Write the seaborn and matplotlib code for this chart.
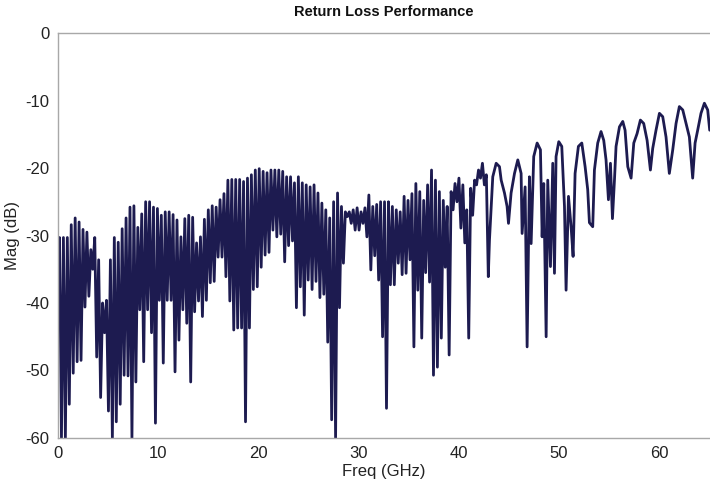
import numpy as np
import pandas as pd
import seaborn as sns
import matplotlib.pyplot as plt

# 0 - 43 GHz: fast ripple, one peak and one dip per period (dB)
start_db = -41.0
peaks_db = [-30.3, -30.3, -30.3, -28.4, -27.4, -28.0, -29.1, -29.5, -32.1, -30.3,
            -33.6, -40.0, -39.6, -33.6, -30.3, -31.0, -29.0, -27.4, -25.8, -25.6,
            -28.8, -26.8, -25.0, -25.0, -25.8, -26.0, -27.0,
            -26.5, -26.5, -26.9, -27.7, -30.2, -27.5, -27.0, -27.3, -31.1, -30.2,
            -27.6, -26.2, -25.6, -25.8, -24.7, -23.8, -21.8, -21.7, -21.7, -21.7,
            -22.0, -21.5, -21.0, -20.3, -20.1, -20.5, -20.7,
            -20.3, -20.3, -20.3, -20.5, -21.3, -21.3, -22.2, -21.3, -22.2, -22.5,
            -22.8, -22.5, -23.7, -25.2, -26.2, -27.4, -25.0, -23.7, -25.7, -26.5,
            -26.5, -26.2, -25.9, -26.5, -25.9, -24.0, -25.7, -25.4, -25.0,
            -25.0, -25.0, -25.7, -26.2, -26.5, -24.2, -24.8, -23.8, -22.3, -23.5,
            -24.8, -22.5, -20.3, -21.8, -23.5, -24.8, -25.7, -23.5, -22.3, -21.5,
            -22.5, -26.2, -23.0, -21.8, -20.3, -19.3, -21.0]
dips_db = [-60.0, -60.0, -55.0, -50.4, -48.7, -48.5, -40.6, -39.0, -35.0, -48.0,
           -54.0, -44.4, -56.0, -60.0, -57.6, -55.0, -50.7, -50.8, -60.0, -51.7,
           -41.0, -48.7, -41.0, -44.4, -57.8, -39.6, -48.9,
           -39.6, -39.6, -50.2, -45.5, -41.0, -43.0, -51.7, -41.3, -39.7, -42.0,
           -39.6, -37.0, -36.8, -33.2, -33.2, -36.1, -39.7, -44.0, -43.7, -43.7,
           -57.6, -43.7, -38.0, -37.6, -34.7, -32.9, -32.5,
           -29.2, -30.2, -29.8, -33.9, -31.5, -30.8, -40.7, -37.6, -41.8, -36.6,
           -38.0, -36.8, -39.2, -38.7, -45.8, -57.3, -60.0, -40.7, -34.1, -27.2,
           -28.2, -29.2, -29.2, -28.2, -30.2, -35.1, -33.0, -36.6, -45.0,
           -55.6, -37.3, -37.3, -34.1, -35.8, -35.6, -33.6, -46.5, -38.1, -45.2,
           -35.5, -36.9, -50.7, -49.5, -45.2, -34.7, -47.7, -26.2, -25.0, -28.9,
           -31.1, -45.2, -27.0, -22.5, -21.5, -22.5, -36.1]

# 43 - 65 GHz: slower ripple, read point by point
tail_ghz = [43.08, 43.41, 43.75, 44.08, 44.25, 44.58, 44.84, 44.98, 45.24, 45.58,
            45.91, 46.24, 46.34, 46.64, 46.84, 47.07, 47.24, 47.50, 47.84, 48.17,
            48.34, 48.50, 48.74, 48.90, 49.17, 49.40, 49.57, 49.73, 50.00, 50.30,
            50.57, 50.73, 50.97, 51.23, 51.43, 51.63, 51.96, 52.30, 52.63, 52.89,
            53.06, 53.39, 53.56, 53.89, 54.22, 54.49, 54.72, 54.96, 55.16, 55.36,
            55.56, 55.72, 56.06, 56.39, 56.62, 56.89, 57.22, 57.49, 57.82, 58.15,
            58.48, 58.82, 59.15, 59.38, 59.71, 60.05, 60.38, 60.71, 61.04, 61.38,
            61.71, 62.04, 62.38, 62.71, 63.04, 63.37, 63.61, 63.87, 64.20, 64.54,
            64.87, 65.07]
tail_db = [-30.7, -21.3, -19.3, -19.8, -21.8, -23.7, -25.7, -28.2, -23.7, -20.8,
           -18.8, -20.8, -29.7, -22.8, -46.5, -21.3, -31.2, -18.3, -16.3, -17.3,
           -30.2, -22.3, -45.0, -21.8, -34.6, -19.3, -35.6, -18.3, -16.1, -16.8,
           -25.7, -38.1, -24.2, -28.7, -33.1, -20.8, -16.8, -16.3, -19.8, -23.2,
           -28.1, -28.7, -20.3, -16.3, -14.6, -15.9, -18.8, -24.7, -19.3, -27.5,
           -21.8, -16.8, -13.9, -13.1, -14.4, -19.8, -21.5, -16.3, -14.9, -12.9,
           -13.4, -15.9, -20.3, -17.1, -14.4, -11.9, -12.4, -15.4, -20.8, -17.3,
           -13.4, -10.9, -11.4, -13.4, -15.4, -21.5, -16.3, -14.4, -11.9, -10.4,
           -11.4, -14.4]

xticks = [0, 10, 20, 30, 40, 50, 60]
yticks = [0, -10, -20, -30, -40, -50, -60]

# frequency grid of the fast ripple part
n = len(peaks_db)
step = 0.391
f_pk = 0.15 + step * np.arange(n)
f_dp = f_pk + step / 2
freq = np.concatenate([[0.0], np.column_stack([f_pk, f_dp]).ravel(), tail_ghz])
mag = np.concatenate([[start_db], np.column_stack([peaks_db, dips_db]).ravel(), tail_db])
df = pd.DataFrame({'Freq': freq, 'Mag': mag})

sns.set_style('white')
plt.rcParams['font.family'] = ['Liberation Sans', 'DejaVu Sans']
plt.rcParams['axes.unicode_minus'] = False

fig = plt.figure(figsize=(7.1, 4.87), dpi=100)
ax = fig.add_axes([58 / 710, 49 / 487, 652 / 710, 405 / 487])
sns.lineplot(data=df, x='Freq', y='Mag', sort=False, estimator=None,
             color='#1d1b50', linewidth=2.0, ax=ax)

ax.set_xlim(0, 65.1)
ax.set_ylim(-60, 0)
ax.set_xticks(xticks)
ax.set_yticks(yticks)
ax.tick_params(direction='in', length=4, width=0.8, color='#a0a0a0',
               labelcolor='#222222', labelsize=12, pad=6)
for side in ['left', 'top', 'bottom']:
    ax.spines[side].set_color('#a8a8a8')
    ax.spines[side].set_linewidth(1.0)
ax.spines['right'].set_visible(False)

ax.set_xlabel('Freq (GHz)', fontsize=12, color='#222222', labelpad=2)
ax.set_ylabel('Mag (dB)', fontsize=12, color='#222222', labelpad=4)
ax.set_title('Return Loss Performance', fontsize=10.5, fontweight='bold',
             color='#111111', pad=12)

fig.savefig('out.png', dpi=100)
